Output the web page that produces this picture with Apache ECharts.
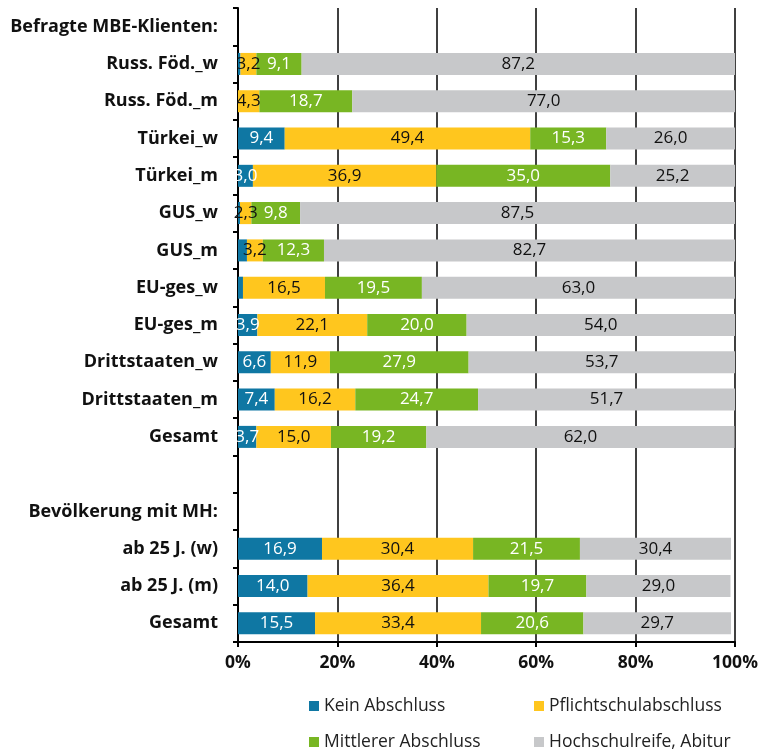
<!DOCTYPE html>
<html>
<head>
<meta charset="utf-8">
<script src="https://cdn.jsdelivr.net/npm/echarts@6/dist/echarts.min.js"></script>
<style>
  html, body { margin: 0; padding: 0; background: #fff; }
  #chart { width: 761px; height: 751px; }
</style>
</head>
<body>
<div id="chart"></div>
<script>
// Zeilen von oben nach unten (inkl. Überschriften und Leerzeile)
const categories = [
  'Befragte MBE-Klienten:', 'Russ. Föd._w', 'Russ. Föd._m', 'Türkei_w', 'Türkei_m',
  'GUS_w', 'GUS_m', 'EU-ges_w', 'EU-ges_m', 'Drittstaaten_w', 'Drittstaaten_m', 'Gesamt',
  '', 'Bevölkerung mit MH:', 'ab 25 J. (w)', 'ab 25 J. (m)', 'Gesamt'
]

const keinAbschluss = [null, 0.5, 0, 9.4, 3.0, 0.4, 1.8, 1.0, 3.9, 6.6, 7.4, 3.7, null, null, 16.9, 14.0, 15.5]
const pflichtschul  = [null, 3.2, 4.3, 49.4, 36.9, 2.3, 3.2, 16.5, 22.1, 11.9, 16.2, 15.0, null, null, 30.4, 36.4, 33.4]
const mittlerer     = [null, 9.1, 18.7, 15.3, 35.0, 9.8, 12.3, 19.5, 20.0, 27.9, 24.7, 19.2, null, null, 21.5, 19.7, 20.6]
const hochschulreife = [null, 87.2, 77.0, 26.0, 25.2, 87.5, 82.7, 63.0, 54.0, 53.7, 51.7, 62.0, null, null, 30.4, 29.0, 29.7]

const seriesNames = ['Kein Abschluss', 'Pflichtschulabschluss', 'Mittlerer Abschluss', 'Hochschulreife, Abitur']
const xTicks = [0, 20, 40, 60, 80, 100]

const FONT = '"Open Sans", "Noto Sans", sans-serif'

const chart = echarts.init(document.getElementById('chart'))

// Werte < 2 werden nicht beschriftet, Dezimalkomma
const fmt = (p) => (p.value == null || p.value < 2) ? '' : p.value.toFixed(1).replace('.', ',')

const mkSeries = (name, data, color, textColor) => ({
  name,
  type: 'bar',
  stack: 'total',
  barWidth: 22,
  data,
  itemStyle: { color },
  label: {
    show: true,
    position: 'inside',
    formatter: fmt,
    color: textColor,
    fontFamily: FONT,
    fontSize: 17
  }
})

// Legende 2x2, jede Position einzeln
const legendPos = [[309, 697], [534, 697], [309, 733], [534, 733]]
const legends = seriesNames.map((n, i) => ({
  data: [n],
  left: legendPos[i][0], top: legendPos[i][1],
  padding: 0,
  itemWidth: 10, itemHeight: 10, itemGap: 0,
  icon: 'rect',
  textStyle: { fontFamily: FONT, fontSize: 17.5, color: '#222' }
}))

chart.setOption({
  animation: false,
  grid: { left: 238, right: 26, top: 8, bottom: 109 },
  legend: legends,
  xAxis: {
    type: 'value',
    min: xTicks[0],
    max: xTicks[xTicks.length - 1],
    interval: 20,
    axisLine: { show: true, lineStyle: { color: '#000', width: 2 } },
    axisTick: { show: true, length: 5, lineStyle: { color: '#000', width: 2 } },
    axisLabel: {
      formatter: '{value}%',
      fontFamily: FONT, fontSize: 17.5, fontWeight: 'bold', color: '#111', margin: 12
    },
    splitLine: { show: true, lineStyle: { color: '#000', width: 1.5 } }
  },
  yAxis: {
    type: 'category',
    inverse: true,
    data: categories,
    axisLine: { show: true, lineStyle: { color: '#000', width: 2 } },
    axisTick: { show: true, length: 5, lineStyle: { color: '#000', width: 2 } },
    axisLabel: {
      fontFamily: FONT, fontSize: 18, fontWeight: 'bold', color: '#111', margin: 20
    }
  },
  series: [
    mkSeries(seriesNames[0], keinAbschluss, '#0F77A3', '#fff'),
    mkSeries(seriesNames[1], pflichtschul, '#FFC61E', '#111'),
    mkSeries(seriesNames[2], mittlerer, '#78B623', '#fff'),
    mkSeries(seriesNames[3], hochschulreife, '#C7C8CA', '#111')
  ]
})
</script>
</body>
</html>
